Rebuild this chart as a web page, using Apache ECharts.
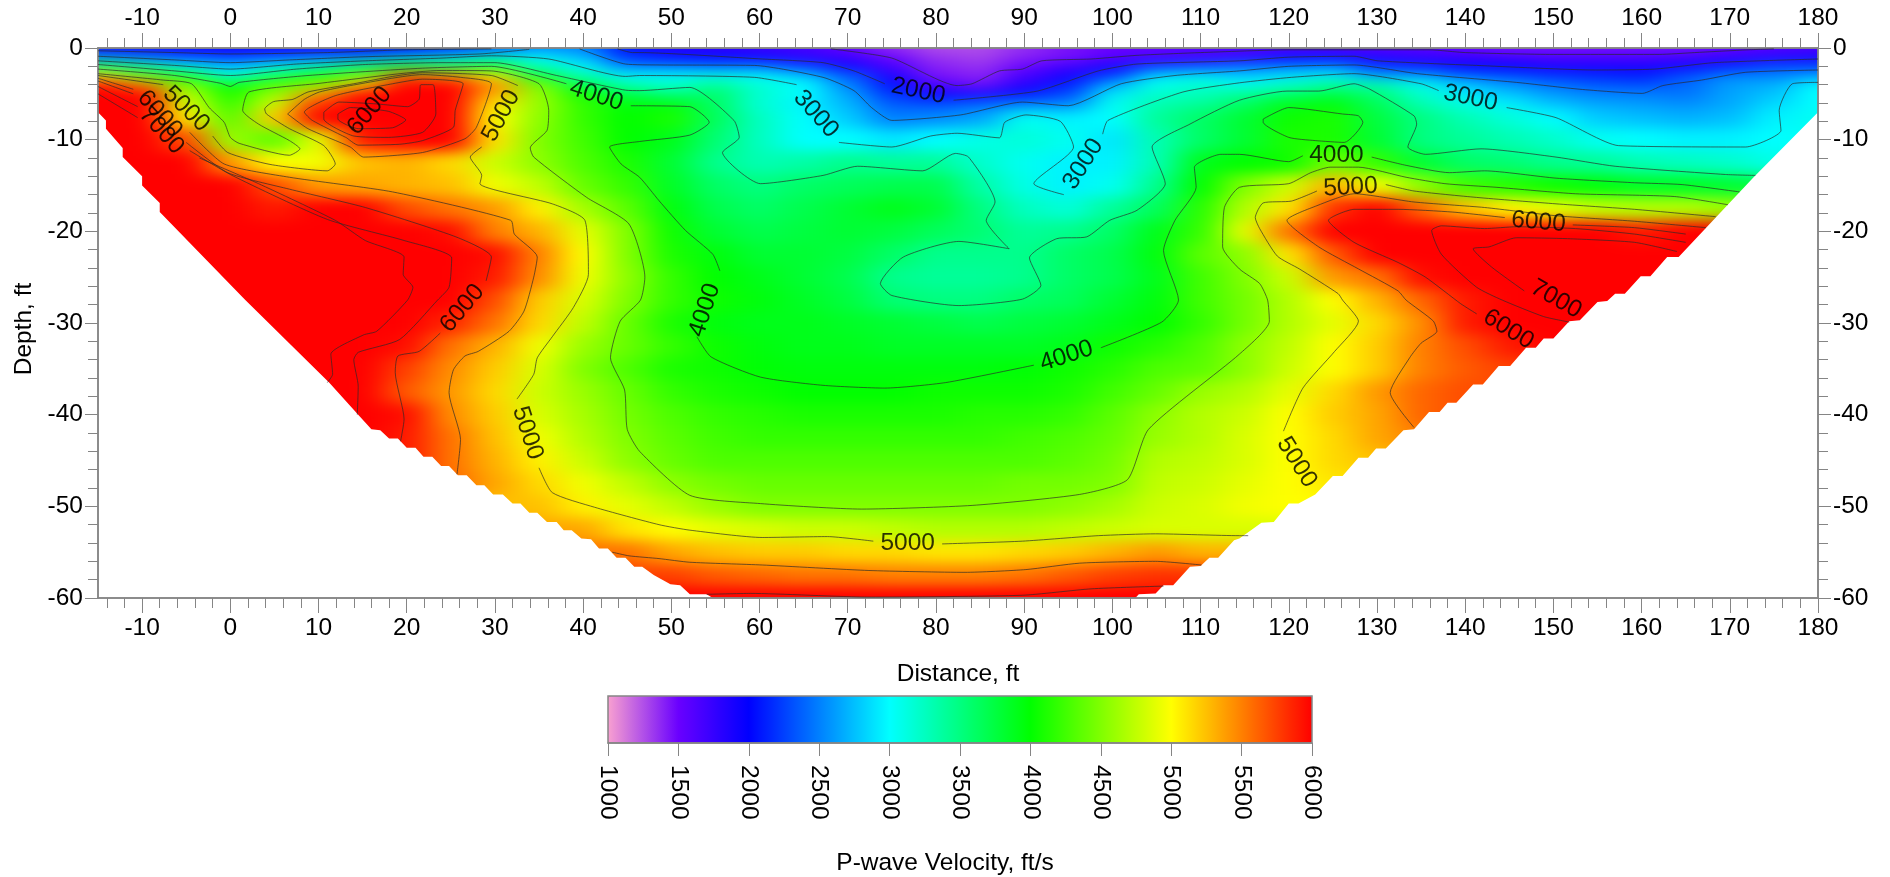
<!DOCTYPE html>
<html><head><meta charset="utf-8">
<script src="https://cdn.jsdelivr.net/npm/echarts@6/dist/echarts.min.js"></script>
<style>html,body{margin:0;padding:0;background:#fff}#c{width:1890px;height:877px}</style>
</head><body>
<svg width="0" height="0" style="position:absolute"><filter id="smear" x="0" y="0" width="100%" height="100%" color-interpolation-filters="sRGB"><feGaussianBlur stdDeviation="16 7"/></filter></svg>
<div id="c"></div>
<script>
// Distance (ft) of each column, depth (ft) of each row
const distances=[-15,-10,-5,0,5,10,15,20,25,30,35,40,45,50,55,60,65,70,75,80,85,90,95,100,105,110,115,120,125,130,135,140,145,150,155,160,165,170,175,180];
const depths=[0,-1,-2,-3,-4,-5,-6,-7.5,-10,-12.5,-15,-17.5,-20,-22.5,-25,-27.5,-30,-32.5,-35,-37.5,-40,-42.5,-45,-47.5,-50,-52.5,-55,-57.5,-60];
// Velocity (ft/s), one list per depth; the colour scale saturates at 6000
const d00=[1900,1900,1900,1900,1900,1900,1950,2000,2100,2300,2500,2500,2050,1800,1750,1700,1650,1500,1350,1250,1250,1350,1450,1500,1500,1550,1550,1550,1550,1550,1550,1500,1450,1450,1450,1450,1450,1500,1550,1600];
const d01=[2600,2450,2280,2220,2300,2450,2520,2750,2900,3100,3000,2700,2200,2050,2000,1950,1800,1700,1500,1350,1300,1400,1450,1550,1650,1700,1800,2000,2000,1850,1750,1700,1650,1600,1600,1600,1650,1750,1850,1900];
const d02=[3700,3400,3000,2800,3000,3200,3600,3900,3800,3900,3250,3000,2500,2500,2450,2450,2250,1950,1650,1400,1350,1500,1700,1900,2200,2300,2450,2500,2550,2200,2100,2000,2000,1900,1900,1900,1950,2100,2300,2300];
const d03=[5000,4400,3900,3000,3700,4050,4400,5600,5400,5000,3800,3300,3000,3000,3050,3000,2800,2400,1850,1450,1400,1650,1900,2200,2900,2950,2800,2900,2950,2650,2650,2400,2300,2200,2150,2100,2350,2550,2500,2600];
const d04=[6000,5500,4500,4000,4300,4550,5200,6000,6000,5500,4500,3700,3300,3200,3400,3150,3000,2500,2050,1600,1450,1800,2100,2700,3050,3200,3000,3200,3400,3300,3050,2800,2600,2450,2350,2300,2400,2600,2700,3000];
const d05=[6000,6000,4700,4100,4600,5400,6000,6000,6000,5300,4550,4050,3700,3450,3600,3200,3000,2650,2200,1950,1900,2050,2300,2900,3200,3250,3450,3550,3700,3550,3200,2900,2750,2600,2500,2500,2450,2650,2750,3000];
const d06=[6000,6000,4850,4200,4800,5800,6000,6000,6000,5100,4600,4200,3950,3950,3600,3150,2950,2700,2350,2300,2400,2500,2500,3050,3300,3400,3600,3900,3950,3650,3300,3100,2950,2750,2650,2600,2550,2650,2850,3000];
const d07=[6000,6000,5100,4350,5200,6000,6000,6000,6000,5000,4550,4200,4000,4100,3650,3250,3000,2800,2500,2550,2650,3050,2950,3000,3400,3600,3800,4050,4100,3750,3500,3300,3150,3000,2800,2750,2700,2750,2950,3050];
const d08=[6000,6000,5700,4600,4350,4900,5900,6000,6000,5100,4500,4250,4000,3900,3550,3250,3000,3000,2900,3000,3100,3150,3050,2900,3300,3600,3800,4100,4100,3800,3500,3400,3300,3200,3050,3000,2950,2950,3000,3050];
const d09=[6000,6000,6000,5400,5000,4950,5250,5300,5150,4800,4550,4300,4100,3800,3450,3300,3350,3450,3400,3400,3200,3050,2950,2950,3300,3900,4000,4050,4450,4200,3800,3600,3550,3450,3400,3300,3250,3200,3100,3100];
const d10=[6000,6000,6000,6000,5700,5400,5350,5300,5250,4950,4750,4400,4200,3850,3600,3500,3600,3650,3700,3700,3350,3100,2950,3050,3450,4000,4500,4800,5300,4950,4550,4250,4150,4050,3950,3850,3850,3800,3700,3700];
const d11=[6000,6000,6000,6000,5900,6000,6000,5700,5550,5400,5050,4650,4350,3950,3700,3600,3700,3800,3900,3800,3500,3250,3150,3400,3650,4150,4700,5100,5800,6000,5600,5250,5050,4900,4750,4700,4700,4600,4500,4400];
const d12=[6000,6000,6000,6000,6000,6000,6000,6000,5950,5500,5300,4900,4500,4050,3800,3700,3750,3800,3750,3650,3550,3400,3450,3600,3900,4200,4900,5550,6000,6000,6000,6000,6000,6000,6000,5900,6000,6000,6000,6000];
const d13=[6000,6000,6000,6000,6000,6000,6000,6000,6000,5950,5500,5000,4500,4100,3950,3800,3800,3750,3600,3450,3450,3450,3600,3700,3950,4350,4550,5100,5650,6000,6000,6000,6000,6000,6000,6000,6000,6000,6000,6000];
const d14=[6000,6000,6000,6000,6000,6000,6000,6000,6000,5900,5450,4950,4550,4200,4000,3900,3800,3700,3450,3400,3400,3450,3600,3700,3900,4250,4500,4800,5400,5550,5950,6000,6000,6000,6000,6000,6000,6000,6000,6000];
const d15=[6000,6000,6000,6000,6000,6000,6000,6000,6000,5700,5200,4850,4500,4200,4050,3950,3850,3750,3550,3500,3500,3600,3650,3800,3950,4250,4450,4700,5000,5300,5600,5900,6000,6000,6000,6000,6000,6000,6000,6000];
const d16=[6000,6000,6000,6000,6000,6000,6000,6000,5850,5550,5150,4750,4400,4100,3950,3900,3900,3850,3800,3750,3700,3750,3800,3900,4000,4200,4450,4700,4900,5150,5450,5900,6000,6000,6000,6000,6000,6000,6000,6000];
const d17=[6000,6000,6000,6000,6000,6000,6000,5950,5550,5300,4950,4600,4400,4200,4050,3950,3900,3900,3850,3850,3850,3850,3900,4050,4150,4300,4550,4750,5000,5200,5500,5700,5900,6000,6000,6000,6000,6000,6000,6000];
const d18=[6000,6000,6000,6000,6000,6000,6000,5750,5450,5200,4850,4500,4300,4100,4050,3980,3950,3950,3950,3950,3950,3980,4050,4150,4300,4350,4550,4800,5000,5200,5500,5650,5750,5750,5750,5750,5750,5750,5750,5750];
const d19=[6000,6000,6000,6000,6000,6000,6000,5650,5400,5150,4800,4600,4400,4200,4100,4050,4000,4000,4000,4050,4050,4050,4100,4250,4400,4600,4700,4900,5150,5400,5600,5700,5700,5700,5700,5700,5700,5700,5700,5700];
const d20=[6000,6000,6000,6000,6000,6000,6000,5950,5450,5200,4850,4650,4450,4300,4200,4150,4100,4100,4100,4100,4150,4150,4200,4350,4550,4700,4800,5000,5200,5350,5600,5700,5700,5700,5700,5700,5700,5700,5700,5700];
const d21=[6000,6000,6000,6000,6000,6000,6000,5900,5550,5250,4950,4700,4500,4350,4250,4200,4200,4200,4200,4200,4200,4250,4300,4400,4600,4700,4850,5000,5150,5350,5500,5500,5500,5500,5500,5500,5500,5500,5500,5500];
const d22=[5900,5900,5900,5900,5900,5900,5900,5900,5550,5300,5050,4800,4550,4400,4300,4300,4300,4300,4300,4300,4300,4300,4350,4450,4700,4750,4850,5000,5150,5250,5250,5250,5250,5250,5250,5250,5250,5250,5250,5250];
const d23=[5600,5600,5600,5600,5600,5600,5600,5600,5600,5350,5150,4950,4750,4550,4450,4400,4400,4400,4400,4400,4400,4450,4450,4500,4750,4800,4900,5000,5100,5100,5100,5100,5100,5100,5100,5100,5100,5100,5100,5100];
const d24=[5250,5250,5250,5250,5250,5250,5250,5250,5250,5250,5250,5050,4900,4750,4600,4500,4500,4500,4500,4500,4500,4500,4550,4650,4800,4850,4950,5000,5000,5000,5000,5000,5000,5000,5000,5000,5000,5000,5000,5000];
const d25=[5350,5350,5350,5350,5350,5350,5350,5350,5350,5350,5350,5350,5100,5000,4900,4850,4800,4800,4750,4700,4700,4700,4750,4800,4850,4850,4850,4850,4850,4850,4850,4850,4850,4850,4850,4850,4850,4850,4850,4850];
const d26=[5550,5550,5550,5550,5550,5550,5550,5550,5550,5550,5550,5550,5550,5350,5250,5200,5200,5150,5150,5100,5100,5150,5200,5300,5400,5300,5300,5300,5300,5300,5300,5300,5300,5300,5300,5300,5300,5300,5300,5300];
const d27=[5750,5750,5750,5750,5750,5750,5750,5750,5750,5750,5750,5750,5750,5750,5650,5600,5550,5550,5500,5500,5500,5550,5650,5750,5800,5800,5800,5800,5800,5800,5800,5800,5800,5800,5800,5800,5800,5800,5800,5800];
const d28=[6000,6000,6000,6000,6000,6000,6000,6000,6000,6000,6000,6000,6000,6000,6000,6000,6000,6000,6000,6000,6000,6000,6000,6000,6000,6000,6000,6000,6000,6000,6000,6000,6000,6000,6000,6000,6000,6000,6000,6000];
const velocityRows=[d00,d01,d02,d03,d04,d05,d06,d07,d08,d09,d10,d11,d12,d13,d14,d15,d16,d17,d18,d19,d20,d21,d22,d23,d24,d25,d26,d27,d28];

// Edges of the surveyed section (distance, depth)
const maskLeft=[[-15,-60],[-15,-7],[-14.1,-7.9],[-14.1,-8.8],[-12.2,-10.9],[-12.2,-11.9],[-10,-14],[-10,-15],[-8,-16.9],[-8,-17.9],[1.7,-27.5],[11.2,-36.5],[14.5,-40],[16,-41.6],[17,-41.7],[18,-42.6],[19,-42.6],[20,-43.6],[21,-43.6],[21.9,-44.6],[22.9,-44.6],[23.9,-45.6],[24.8,-45.6],[25.8,-46.6],[26.8,-46.6],[27.9,-47.7],[28.8,-47.7],[29.8,-48.7],[30.9,-48.7],[32,-49.7],[32.9,-49.7],[33.9,-50.7],[34.8,-50.7],[35.9,-51.7],[37,-51.7],[37.8,-52.6],[38.7,-52.6],[39.8,-53.5],[40.9,-53.6],[41.8,-54.6],[42.8,-54.6],[43.8,-55.6],[44.8,-55.6],[45.8,-56.6],[46.7,-56.6],[48,-57.5],[49.9,-58.5],[51,-58.6],[52.1,-59.6],[54,-59.6],[54.7,-60]];
const maskRight=[[102.6,-60],[103,-59.6],[104.9,-59.5],[105.8,-58.6],[106.9,-58.6],[108.8,-56.6],[110,-56.5],[111,-55.6],[112,-55.6],[113.8,-53.7],[114.4,-53.5],[115.6,-52.7],[116.9,-51.8],[118.3,-51.7],[120,-49.7],[121.1,-49.7],[123,-48.7],[125,-46.7],[126.1,-46.7],[127.9,-44.7],[129,-44.7],[129.9,-43.7],[131,-43.7],[133,-41.7],[134.2,-41.6],[135.9,-39.7],[137.1,-39.7],[138,-38.7],[139,-38.7],[140.9,-36.7],[142,-36.7],[143.8,-34.7],[145.1,-34.7],[146.9,-32.7],[148,-32.7],[148.9,-31.7],[150,-31.7],[151.8,-29.8],[153,-29.7],[155,-27.7],[156.1,-27.6],[157,-26.8],[158.1,-26.8],[159.9,-24.9],[161,-24.9],[162.9,-22.8],[164.2,-22.8],[172.7,-14.1],[180,-7],[180,-60]];

// Contour traces: every level is a list of unbroken segments of [distance, depth]
const c1500=[[[68.1,-0.1],[75,-1.1],[82.4,-4.1],[84.1,-3.9],[87.2,-2.5],[89.8,-2.3],[92,-1.4],[97.6,-1.2],[102.8,-0.8],[110,-0.5],[120,-0.2],[136,-0.2],[140,-0.5],[150,-0.7],[162,-0.7],[166,-0.5],[172,-0.2],[175,-0.1]]];
const c2000=[[[-15,-0.3],[-6.3,-0.5],[0,-0.65],[11,-0.5],[19.7,-0.2],[29.6,-0.1]],
[[43.9,-0.1],[45.6,-0.5],[46.4,-0.5],[60.3,-1.2],[67.2,-1.6],[70.7,-2.5],[74.2,-3.9]],
[[82,-5.7],[91.5,-4.7],[98.4,-2.5],[102.8,-1.75],[114.4,-1.4],[120,-1],[127.4,-0.9],[130.1,-1.4],[141.3,-1.9],[154.8,-2.4],[161.5,-2.3],[168.2,-1.6],[180,-1.2]]];
const c2500=[[[-15,-0.9],[-6.3,-1.3],[0,-1.6],[6.7,-1.3],[15.3,-0.95],[28.3,-0.65],[33.9,-0.15]],
[[39.6,-0.1],[44.8,-1.75],[48.6,-1.85],[59.4,-1.9],[67.2,-3.2],[70.7,-4.65],[72.7,-6.5],[75,-7.9],[82.8,-7.3],[89.8,-5.9],[95,-6.3],[101,-3.9],[107.1,-3],[114.4,-2.5],[120,-2],[127.4,-1.85],[134.6,-2.8],[145.8,-3.75],[153,-4.5],[160.1,-4.95],[162.4,-4.1],[166.8,-3.5],[171.8,-2.65],[180,-2.4]]];
const c3000=[[[-15,-1.4],[-6.3,-1.9],[0,-2.3],[7.5,-1.75],[15.3,-1.4],[24,-1.1],[29.6,-0.85],[36.1,-1.2],[44.8,-3.1],[46.4,-3],[59.4,-3.2],[64.2,-4]],
[[69,-10.3],[75,-10.8],[79.4,-9.6],[82.4,-9.3],[87.2,-9.8],[87.8,-8.1],[90.2,-7.3],[94.1,-8],[95.6,-10.8],[91.1,-14.8],[94.5,-16]],
[[98.9,-9.4],[99.5,-7.9],[108,-4.8],[114.4,-3.8],[120.3,-3.2],[127.4,-2.8],[135,-3.9],[137,-4.65]],
[[144.7,-6.5],[150.3,-7.6],[157.4,-10.65],[171.8,-10.8],[175.8,-9],[175.6,-6.8],[177.1,-3.9],[180,-3.75]]];
const c3500=[[[-15,-1.8],[-6.3,-2.5],[0,-3],[7.5,-2.3],[15.3,-1.8],[24,-1.6],[30,-1.6],[37,-3],[44.8,-4.6],[46.4,-4.65],[52.1,-4.3],[57.1,-7.9],[57.7,-9.75],[55.8,-11.4],[60.1,-14.8],[67.2,-13.9],[71.1,-12.9],[78.5,-13.4],[82.2,-11.5],[83.7,-11.9],[86.7,-16.8],[85.7,-18.8],[88.3,-21.9],[82.6,-21.1],[76.3,-22.8],[73.7,-25.7],[75,-27],[82.6,-28.1],[89.8,-27.4],[91.9,-25.9],[90.6,-22.9],[93.7,-20.8],[97.1,-20.6],[99.7,-18.8],[102.8,-17.7],[106,-14.8],[104.5,-10.8],[108.8,-8.3],[114.4,-5.7],[119.8,-4.7],[123.4,-4.7],[127.4,-3.9],[129.2,-4.5],[134.2,-7.4],[134.5,-8.3],[133.5,-10.8],[135.5,-11.6],[141.8,-11],[150.3,-11.9],[157,-12.9],[169.5,-13.8],[172.9,-13.9]]];
const c4000=[[[-15,-2.3],[-6.3,-3],[-1.1,-3.85],[0,-4.2],[1,-3.75],[8.8,-3],[21.8,-2.2],[29.6,-2],[38.1,-3.9]],
[[45.4,-6.3],[52.1,-6.4],[54.3,-8.1],[52.1,-9.5],[46.4,-10.2],[43,-10.8],[44.3,-12.65],[46.4,-14.1],[48.6,-16.65],[51.6,-19.9],[54.7,-22.5],[55.5,-24.3]],
[[52.9,-31.5],[54.5,-33.7],[60.1,-35.9],[67.2,-36.8],[74.2,-37.1],[81.1,-36.5],[91.1,-34.6]],
[[98.7,-32.7],[105.6,-29.9],[107.5,-27.5],[105.8,-22.1],[107.1,-18.8],[109.5,-15.2],[109.3,-13],[112.3,-11.6],[114.4,-11.6],[120,-12.4],[121.6,-11.75]],
[[129.4,-11.9],[133.3,-12.8],[138.2,-13.6],[142.2,-13.4],[150.3,-14.2],[159.2,-14.7],[164.6,-14.9],[171.1,-15.7]],
[[117.1,-7.75],[120,-6.5],[126.1,-7.2],[127.9,-7.4],[128.4,-8.1],[126.3,-10.3],[123,-10.1],[120,-9.75],[117.1,-8.1],[117.1,-7.75]]];
const c4500=[[[-15,-2.8],[-7.6,-3.5],[-4.4,-3.9],[-2.4,-6.5],[-0.7,-8.1],[0,-9.75],[1,-10.4],[6.7,-11.7],[7.9,-11],[6.7,-10.1],[3.2,-8.3],[1.4,-6.8],[2.1,-4.8],[9.7,-3.9],[24,-2.45],[29.6,-2.5],[35,-3.9],[36.1,-6.8],[35.9,-9],[34,-10.9],[34.4,-11.9],[40.4,-16.3],[45.2,-19.2],[47,-25],[46.5,-27.5],[44.2,-29.8],[43.1,-33.8],[44.7,-37.3],[45,-41.6],[46.4,-44],[52.1,-48.8],[60.1,-49.7],[71.6,-50.3],[84.1,-49.9],[96.3,-48.7],[101.7,-47.1],[104.1,-41.6],[114.4,-33.4],[117.8,-29.8],[117.6,-27.5],[116.7,-25.7],[114.4,-24.1],[112.5,-21.7],[112.7,-17.4],[114.4,-15.2],[120,-14.8],[122.5,-13.6],[124.7,-13],[127.9,-13],[133.3,-14.1],[137.7,-14.8],[143.6,-15.2],[152.5,-15.9],[163.7,-16.2],[169.8,-17.1]]];
const c5000=[[[-15,-3],[-7.6,-4]],
[[-2,-9.6],[-0.3,-11.4],[4.5,-12.7],[11,-13.4],[11.9,-12.65],[10.6,-10.65],[6.7,-8.8],[4.1,-7.2],[3.9,-6.65],[4.9,-5.85],[7.1,-5.6],[8.8,-4.8],[14,-3.9],[18.4,-3.1],[21.8,-2.7],[29.6,-3],[32.6,-4.1]],
[[28.5,-10.8],[27.2,-11.9],[28.5,-13.9],[28.3,-14.8],[36.5,-17],[40.2,-18.8],[40.6,-24.7],[38.9,-28.3],[36.5,-31.5],[34.8,-33.8],[34.4,-35.6],[32.5,-38.3]],
[[35,-45.8],[36.5,-48.5],[41.3,-50.1],[48.6,-52],[52.1,-52.6],[60.3,-53.4],[67.7,-53.3],[72.9,-53.8]],
[[80.7,-54.1],[89.8,-53.8],[98.4,-53.2],[104.9,-53],[114.4,-53.2],[115.4,-53.2]],
[[119.4,-41.8],[121.6,-37.1],[125.2,-33.1],[127.9,-29.8],[126.1,-27.5],[125.6,-26.8],[121.2,-24.1],[118.7,-22.7],[116.7,-19.7],[116.2,-18.5],[117.1,-16.9],[120.3,-16.7],[123.2,-15.6]],
[[131,-14.9],[134.2,-15.6],[141.3,-16.3],[150.3,-17],[159.2,-17.6],[168.4,-18.4]]];
const c5500=[[[6.5,-7.2],[8.4,-5.6],[10.1,-4.8],[13.6,-4.1],[21.8,-2.9],[26.1,-3.2],[29.6,-3.9],[27.9,-8.65],[26.6,-9.9],[21.8,-11.4],[15.1,-11.9],[13.6,-10.8],[8.8,-8.8],[6.5,-7.2]],
[[-15,-3.3],[-11,-4.5]],
[[-4.6,-9.2],[-0.7,-12.65],[6.7,-14.1],[18.4,-15.7],[31.8,-18.8],[32.2,-20.3],[34.8,-22.8],[34.4,-25],[33.3,-28.7],[31.6,-30.9],[28.1,-33.1],[26.6,-33.6],[25.3,-35.1],[24.8,-37.6],[26.1,-42.7],[25.7,-46.5]],
[[43.3,-55],[45.2,-55.4],[48.6,-55.7],[52.1,-56.1],[60.3,-56.4],[72.4,-57],[83.3,-57.2],[90.2,-56.9],[96.3,-56.2],[104.9,-56],[110.1,-56.4]],
[[167.3,-19.6],[159.2,-18.9],[150.3,-18.3],[142.2,-17.4],[134.2,-16.8],[127.4,-15.9],[123.2,-17.2],[119.8,-18.8],[123.4,-21.7],[127.9,-24.1],[132.4,-26.5],[133.3,-27.5],[136.4,-29.8],[136.8,-30.9],[135,-32.2],[133.7,-33.8],[131.5,-37.6],[134.2,-41.4]]];
const c6000=[[[13.2,-9.8],[14.5,-10.6],[19.2,-10.5],[21.8,-10.1],[25.3,-8.65],[25.5,-6.8],[26.4,-3.9],[21.8,-3.4],[18.4,-3.9],[11.9,-5.2],[8.4,-7],[9.3,-7.9],[13.2,-9.8]],
[[-15,-3.6],[-11,-5]],
[[-5,-10.3],[-0.3,-13.6],[6.7,-15.4],[15.3,-17.4],[25.7,-20.65],[29.6,-22.8],[29,-25.4]],
[[23.8,-31.1],[21.4,-33.1],[19,-33.6],[18.7,-35.4],[19.7,-40.5],[19.3,-42.9]],
[[165,-20.3],[159.2,-19.6],[152.2,-19.3]],
[[144.5,-18.5],[138.6,-17.9],[132.4,-17.6],[127.4,-17.6],[124.5,-18.8],[127.4,-21.2],[132.4,-23.4],[135.5,-25],[139.5,-27.9],[141.3,-29]],
[[54,-59.6],[59,-59.5],[72.4,-59.9],[89.8,-59.7],[97.6,-59],[105.8,-58.7]]];
const c6500=[[[10.6,-7],[12.3,-5.9],[16.6,-6.1],[20.1,-6.4],[21.4,-5.6],[21.6,-4],[23,-4],[23.3,-7.2],[21.8,-9.2],[17.9,-9.75],[14,-9.6],[10.6,-7.75],[10.6,-7]],
[[-15,-4.2],[-10.5,-6.4]],
[[-4.6,-11.2],[0.2,-13.9],[11,-18.7],[19.7,-21],[25.1,-22.9],[24.8,-26.1],[23.5,-27.5],[19.2,-31.8],[14.5,-33.2],[14,-34],[14.5,-36.9],[14.4,-40]],
[[165,-21.2],[159.2,-20.3],[152.5,-19.7],[145.8,-19.5],[142.2,-19.7],[137.3,-19.4],[136.2,-19.9],[137.3,-22.5],[141.3,-26.1],[144.2,-27.5],[148.9,-29.3],[151.8,-29.9]]];
const c7000=[[[12.2,-7.2],[13.6,-6.5],[17.9,-6.9],[19.9,-7.85],[18.4,-8.7],[14.5,-8.8],[12.2,-7.75],[12.2,-7.2]],
[[-15,-5],[-10.5,-7.6]],
[[-3.5,-12],[3.2,-14.8],[11.9,-18.8],[15.3,-21],[19.7,-22.8],[19.6,-24.7],[20.7,-26.1],[20.1,-27.5],[16.6,-30.9],[15.1,-31.3],[11.4,-33.4],[11.6,-35.6],[11,-36.5]],
[[164,-22.2],[159.2,-21.2],[151.6,-20.8],[145.8,-20.7],[142.7,-21.7],[140.9,-21.9],[143,-23.9],[146.7,-26.5]]];
const contourLevels=[c1500,c2000,c2500,c3000,c3500,c4000,c4500,c5000,c5500,c6000,c6500,c7000];

// Contour labels: distance, depth, text, rotation
const contourLabels=[[78,-4.7,'2000',-12],[66.4,-7.2,'3000',-48],[96.7,-12.65,'3000',58],[140.6,-5.45,'3000',-12],[41.5,-5.2,'4000',-18],[53.8,-28.6,'4000',72],[94.8,-33.6,'4000',18],[125.4,-11.75,'4000',0],[-5,-6.65,'5000',-44],[30.7,-7.4,'5000',62],[33.7,-42,'5000',-72],[76.8,-54,'5000',0],[120.9,-45.2,'5000',-58],[127,-15.2,'5000',3],[-8,-7.2,'6000',-48],[15.8,-6.85,'6000',50],[26.3,-28.4,'6000',50],[148.3,-19,'6000',-5],[144.9,-30.7,'6000',-32],[-7.8,-9,'7000',-48],[150.3,-27.4,'7000',-30]];

// Axis ticks
const xMajor=[-10,0,10,20,30,40,50,60,70,80,90,100,110,120,130,140,150,160,170,180];
const xMinor=[-14,-12,-8,-6,-4,-2,2,4,6,8,12,14,16,18,22,24,26,28,32,34,36,38,42,44,46,48,52,54,56,58,62,64,66,68,72,74,76,78,82,84,86,88,92,94,96,98,102,104,106,108,112,114,116,118,122,124,126,128,132,134,136,138,142,144,146,148,152,154,156,158,162,164,166,168,172,174,176,178];
const yMajor=[0,-10,-20,-30,-40,-50,-60];
const yMinor=[-2,-4,-6,-8,-12,-14,-16,-18,-22,-24,-26,-28,-32,-34,-36,-38,-42,-44,-46,-48,-52,-54,-56,-58];
const scaleColors=['#f8a0d0','#6a00ff','#0000ff','#0080ff','#00ffff','#00ff80','#00ff00','#80ff00','#ffff00','#ff8000','#ff0000'];

const FONT='"Liberation Sans",Arial,sans-serif', GREY='#858585', TS=24.5;
const cellData=[];
velocityRows.forEach((row,r)=>row.forEach((v,c)=>cellData.push([c,r,v])));

function edge(list,i,overrun){
  if(i<0) return list[0]+overrun*(list[0]-list[1])/Math.abs(list[0]-list[1]);
  if(i>=list.length-1) return list[list.length-1]+overrun*(list[list.length-1]-list[list.length-2])/Math.abs(list[list.length-1]-list[list.length-2]);
  return (list[i]+list[i+1])/2;
}
function renderCell(params,api){
  const c=api.value(0), r=api.value(1);
  const p0=api.coord([edge(distances,c-1,12),edge(depths,r-1,8)]);
  const p1=api.coord([edge(distances,c,12),edge(depths,r,8)]);
  return {type:'rect',shape:{x:p0[0],y:p0[1],width:p1[0]-p0[0]+1,height:p1[1]-p0[1]+1},style:{fill:api.visual('color')}};
}
function renderMask(params,api){
  const poly=l=>({type:'polygon',shape:{points:l.map(p=>api.coord(p))},style:{fill:'#fff'}});
  return {type:'group',children:[poly(maskLeft),poly(maskRight)]};
}
function flat(level){
  const out=[];
  level.forEach((seg,i)=>{ if(i) out.push(['-','-']); seg.forEach(p=>out.push(p)); });
  return out;
}
function axisBase(extra){
  return Object.assign({type:'value',zlevel:1,z:5,splitLine:{show:false},
    axisLine:{show:true,onZero:false,lineStyle:{color:GREY,width:1.5}}},extra);
}
function xAx(pos,custom,len,lab,extra){
  return axisBase(Object.assign({position:pos,min:-15,max:180,
    axisTick:{show:true,customValues:custom,length:len,lineStyle:{color:GREY,width:1}},
    axisLabel:lab?{show:true,customValues:custom,color:'#000',fontFamily:FONT,fontSize:TS,margin:pos==='top'?17:18}:{show:false}},extra||{}));
}
function yAx(pos,custom,len,lab,extra){
  return axisBase(Object.assign({position:pos,min:-60,max:0,
    axisTick:{show:true,customValues:custom,length:len,lineStyle:{color:GREY,width:1}},
    axisLabel:lab?{show:true,customValues:custom,color:'#000',fontFamily:FONT,fontSize:TS,margin:15}:{show:false}},extra||{}));
}
const series=[
 {type:'custom',name:'cells',zlevel:0,clip:false,silent:true,renderItem:renderCell,data:cellData,encode:{x:0,y:1},animation:false},
 {type:'custom',name:'mask',zlevel:1,z:2,silent:true,renderItem:renderMask,data:[[0,0]],animation:false}
];
contourLevels.forEach((lv,i)=>series.push({type:'line',name:'contour'+i,zlevel:1,z:6,silent:true,symbol:'none',showSymbol:false,
  smooth:0.2,connectNulls:false,lineStyle:{color:'#2a2a2a',width:0.8,opacity:0.85},data:flat(lv),animation:false}));
series.push({type:'scatter',name:'labels',zlevel:1,z:7,silent:true,symbolSize:1,itemStyle:{color:'rgba(0,0,0,0)'},animation:false,
  data:contourLabels.map(l=>({value:[l[0],l[1]],label:{show:true,position:'inside',formatter:l[2],rotate:l[3],color:'#000',fontFamily:FONT,fontSize:TS}}))});

const chart=echarts.init(document.getElementById('c'),null,{renderer:'canvas'});
chart.setOption({
  animation:false,
  grid:[{left:98,right:72,top:48,bottom:279,zlevel:1},
        {left:608,width:704,top:696,height:47,zlevel:1,z:10,show:true,borderColor:GREY,borderWidth:1.5,backgroundColor:'transparent'}],
  visualMap:{type:'continuous',min:1000,max:6000,dimension:2,seriesIndex:0,orient:'horizontal',left:608,top:696,itemWidth:47,itemHeight:704,
    calculable:false,showLabel:false,text:null,hoverLink:false,padding:0,zlevel:1,z:8,inRange:{color:scaleColors},outOfRange:{color:'#ff0000'}},
  xAxis:[
    xAx('bottom',xMajor,15,true,{name:'Distance, ft',nameLocation:'middle',nameGap:64,nameTextStyle:{color:'#000',fontFamily:FONT,fontSize:TS}}),
    xAx('top',xMajor,15,true),
    xAx('bottom',xMinor,10,false),
    xAx('top',xMinor,10,false),
    {type:'value',gridIndex:1,zlevel:1,z:11,position:'bottom',min:1000,max:6000,interval:500,splitLine:{show:false},
     axisLine:{show:true,lineStyle:{color:GREY,width:1.5}},axisTick:{show:true,length:13,lineStyle:{color:GREY,width:1}},
     axisLabel:{show:true,rotate:-90,formatter:v=>String(v),color:'#000',fontFamily:FONT,fontSize:TS,margin:22,showMinLabel:true,showMaxLabel:true,hideOverlap:false},
     name:'P-wave Velocity, ft/s',nameLocation:'middle',nameGap:108,nameTextStyle:{color:'#000',fontFamily:FONT,fontSize:TS,padding:[0,30,0,0]}}
  ],
  yAxis:[
    yAx('left',yMajor,13,true,{name:'Depth, ft',nameLocation:'middle',nameGap:60,nameRotate:90,nameTextStyle:{color:'#000',fontFamily:FONT,fontSize:TS,padding:[0,12,0,0]}}),
    yAx('right',yMajor,13,true),
    yAx('left',yMinor,10,false),
    yAx('right',yMinor,10,false),
    {type:'value',gridIndex:1,min:0,max:1,show:false}
  ],
  series:series
});
// Soften the cell layer (zlevel 0 only): axes, contours and text stay sharp on their own layer
const base=document.querySelector('#c canvas[data-zr-dom-id="zr_0"]');
if(base){ base.style.filter='url(#smear)'; base.style.clipPath='inset(48px 72px 279px 98px)'; }
</script>
</body></html>
